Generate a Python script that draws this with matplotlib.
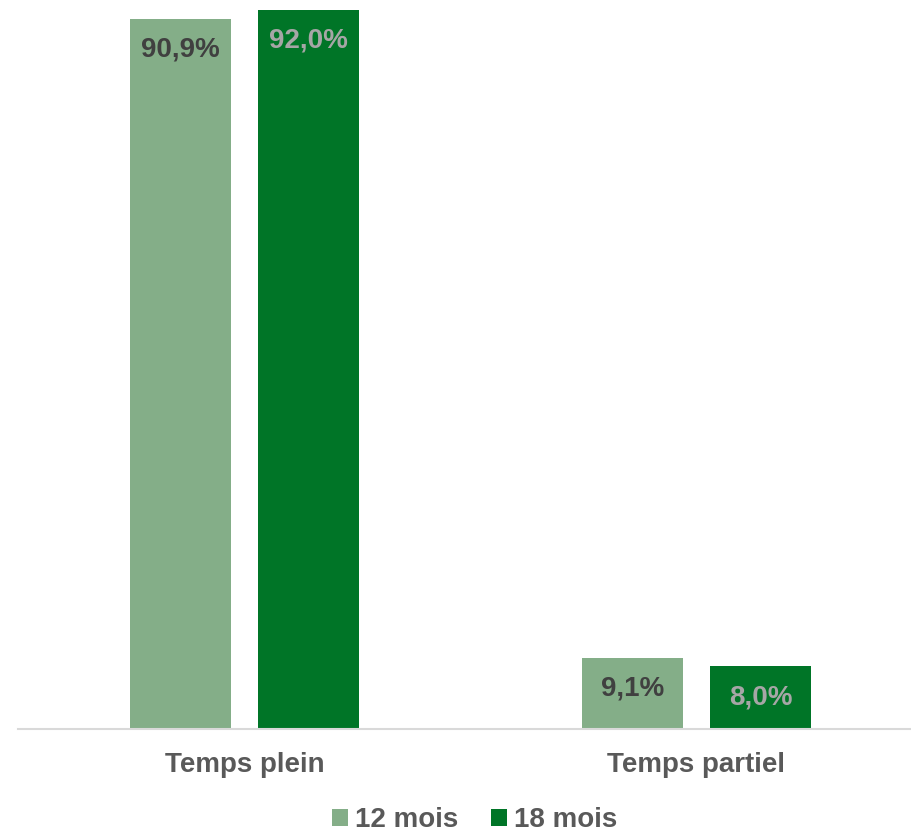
import matplotlib.pyplot as plt
import numpy as np

categories = ['Temps plein', 'Temps partiel']
series_names = ['12 mois', '18 mois']
values_12 = [90.9, 9.1]
values_18 = [92.0, 8.0]
labels_12 = ['90,9%', '9,1%']
labels_18 = ['92,0%', '8,0%']

c_light = '#84AE88'
c_dark = '#007527'

plt.rcParams['font.family'] = ['Liberation Sans', 'DejaVu Sans']

fig = plt.figure(figsize=(9.11, 8.32), dpi=100)
ax = fig.add_axes([18 / 911, 1 - 729 / 832, 1 - 18 / 911, 729 / 832])

x = np.arange(len(categories))
w = 0.2235
off = 0.1416
b1 = ax.bar(x - off, values_12, w, color=c_light, label=series_names[0])
b2 = ax.bar(x + off, values_18, w, color=c_dark, label=series_names[1])

# data labels inside the top of each bar
for rect, lab in zip(b1, labels_12):
    ax.annotate(lab, (rect.get_x() + rect.get_width() / 2, rect.get_height()),
                xytext=(0, -22), textcoords='offset points', ha='center', va='center',
                fontsize=20, fontweight='bold', color='#404040')
for rect, lab in zip(b2, labels_18):
    ax.annotate(lab, (rect.get_x() + rect.get_width() / 2, rect.get_height()),
                xytext=(0, -22), textcoords='offset points', ha='center', va='center',
                fontsize=20, fontweight='bold', color='#A6A6A6')

ax.set_xlim(-0.501, 1.4746)
ax.set_ylim(0, 93.28)
ax.set_yticks([])
ax.set_xticks(x)
ax.set_xticklabels(categories, fontsize=20, fontweight='bold', color='#595959')
ax.tick_params(axis='x', length=0, pad=16.5)
for s in ['top', 'right', 'left']:
    ax.spines[s].set_visible(False)
ax.spines['bottom'].set_color('#D9D9D9')
ax.spines['bottom'].set_linewidth(1.5)

fig.legend(loc='center', bbox_to_anchor=(0.521, 1 - 820 / 832), ncol=2, frameon=False,
           prop={'size': 20, 'weight': 'bold'}, labelcolor='#595959',
           handlelength=0.55, handleheight=0.55, handletextpad=0.25, columnspacing=1.2)

fig.savefig('out.png', dpi=100)
